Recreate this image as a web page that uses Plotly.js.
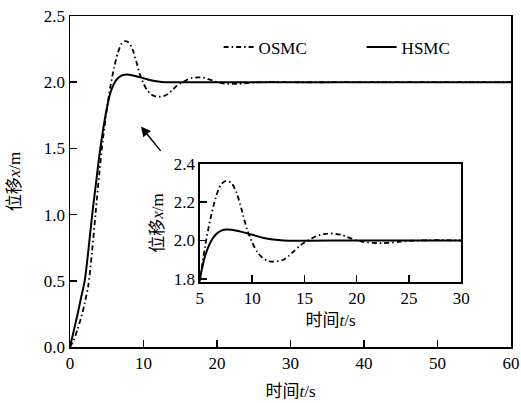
<!DOCTYPE html>
<html>
<head>
<meta charset="utf-8">
<script src="https://cdn.plot.ly/plotly-3.0.1.min.js"></script>
<style>html,body{margin:0;padding:0;background:#fff;}#chart{width:521px;height:403px;}</style>
</head>
<body>
<div id="chart"></div>
<script>
// ---- data ----
const seriesNames = ["OSMC", "HSMC"];
const tOSMC = [0,0.5,1,1.5,2,2.5,3,3.5,4,4.5,5,5.5,6,6.5,7,7.5,8,8.5,9,9.5,10,10.5,11,11.5,12,12.5,13,13.5,14,14.5,15,15.5,16,16.5,17,17.5,18,18.5,19,19.5,20,20.5,21,21.5,22,22.5,23,24,25,26,27,28,29,30,40,50,60];
const xOSMC = [0,0.05,0.13,0.22,0.33,0.47,0.72,1.02,1.32,1.58,1.79,1.97,2.11,2.22,2.29,2.31,2.30,2.25,2.16,2.06,1.99,1.94,1.91,1.895,1.89,1.893,1.90,1.92,1.945,1.97,1.99,2.005,2.02,2.03,2.035,2.037,2.035,2.03,2.02,2.01,2.0,1.995,1.99,1.988,1.987,1.987,1.988,1.993,1.998,2.0,2.002,2.002,2.001,2.0,2.0,2.0,2.0];
const tHSMC = [0,0.5,1,1.5,2,2.5,3,3.5,4,4.5,5,5.5,6,6.5,7,7.5,8,9,10,11,12,13,15,20,30,40,50,60];
const xHSMC = [0,0.12,0.24,0.37,0.50,0.73,0.99,1.22,1.45,1.64,1.80,1.92,1.99,2.03,2.05,2.057,2.056,2.045,2.03,2.015,2.005,2.0,1.999,2.0,2.0,2.0,2.0,2.0];
const mainXTicks = [0,10,20,30,40,50,60];
const mainYTicks = [0,0.5,1.0,1.5,2.0,2.5];
const insetXTicks = [5,10,15,20,25,30];
const insetYTicks = [1.8,2.0,2.2,2.4];
const xTitle = "时间<i>t</i>/s";
const yTitle = "位移<i>x</i>/m";
const arrowHead = [9.65, 1.665];
const arrowTail = [12.5, 1.47];

const FONT = "'Liberation Serif', 'Times New Roman', 'Noto Sans CJK SC', serif";
const dashOS = "5px,3px,1.5px,3px";

const traces = [
  {x: tOSMC, y: xOSMC, name: seriesNames[0], mode: "lines", xaxis: "x", yaxis: "y",
   line: {color: "#000", width: 1.8, dash: dashOS, shape: "spline", smoothing: 0.8}},
  {x: tHSMC, y: xHSMC, name: seriesNames[1], mode: "lines", xaxis: "x", yaxis: "y",
   line: {color: "#000", width: 2, shape: "spline", smoothing: 0.8}},
  {x: tOSMC, y: xOSMC, showlegend: false, mode: "lines", xaxis: "x2", yaxis: "y2",
   line: {color: "#000", width: 1.8, dash: dashOS, shape: "spline", smoothing: 0.8}},
  {x: tHSMC, y: xHSMC, showlegend: false, mode: "lines", xaxis: "x2", yaxis: "y2",
   line: {color: "#000", width: 2, shape: "spline", smoothing: 0.8}}
];

const axCommon = {
  showline: true, mirror: true, linecolor: "#000", linewidth: 1.5,
  ticks: "inside", ticklen: 7, tickwidth: 1.5, tickcolor: "#000",
  showgrid: false, zeroline: false,
  tickfont: {family: FONT, size: 17, color: "#000"}
};

const layout = {
  width: 521, height: 403,
  margin: {l: 70, r: 10, t: 16, b: 56},
  paper_bgcolor: "#fff", plot_bgcolor: "#fff",
  font: {family: FONT, size: 17, color: "#000"},
  showlegend: true,
  legend: {orientation: "h", x: 0.337, y: 0.905, xanchor: "left", yanchor: "middle",
           font: {family: FONT, size: 17, color: "#000"}, bgcolor: "rgba(0,0,0,0)",
           entrywidth: 98, entrywidthmode: "pixels"},
  xaxis: Object.assign({}, axCommon, {range: [0, 60], tickvals: mainXTicks, domain: [0, 1], automargin: false,
    title: {text: xTitle, font: {family: FONT, size: 17}, standoff: 13}}),
  yaxis: Object.assign({}, axCommon, {range: [0, 2.5], tickvals: mainYTicks, tickformat: ".1f", domain: [0, 1], automargin: false,
    title: {text: yTitle, font: {family: FONT, size: 17}, standoff: 19}}),
  xaxis2: Object.assign({}, axCommon, {range: [5, 30], tickvals: insetXTicks, anchor: "y2",
    domain: [0.2945, 0.887],
    title: {text: xTitle, font: {family: FONT, size: 17}, standoff: 6}}),
  yaxis2: Object.assign({}, axCommon, {range: [1.782, 2.4], tickvals: insetYTicks, tickformat: ".1f", anchor: "x2",
    domain: [0.195, 0.554],
    title: {text: yTitle, font: {family: FONT, size: 17}, standoff: 6}}),
  annotations: [{
    x: arrowHead[0], y: arrowHead[1], xref: "x", yref: "y",
    ax: arrowTail[0], ay: arrowTail[1], axref: "x", ayref: "y",
    showarrow: true, arrowhead: 2, arrowsize: 1.3, arrowwidth: 1.5, arrowcolor: "#000", text: ""
  }]
};

Plotly.newPlot("chart", traces, layout, {staticPlot: true, displayModeBar: false});
</script>
</body>
</html>
